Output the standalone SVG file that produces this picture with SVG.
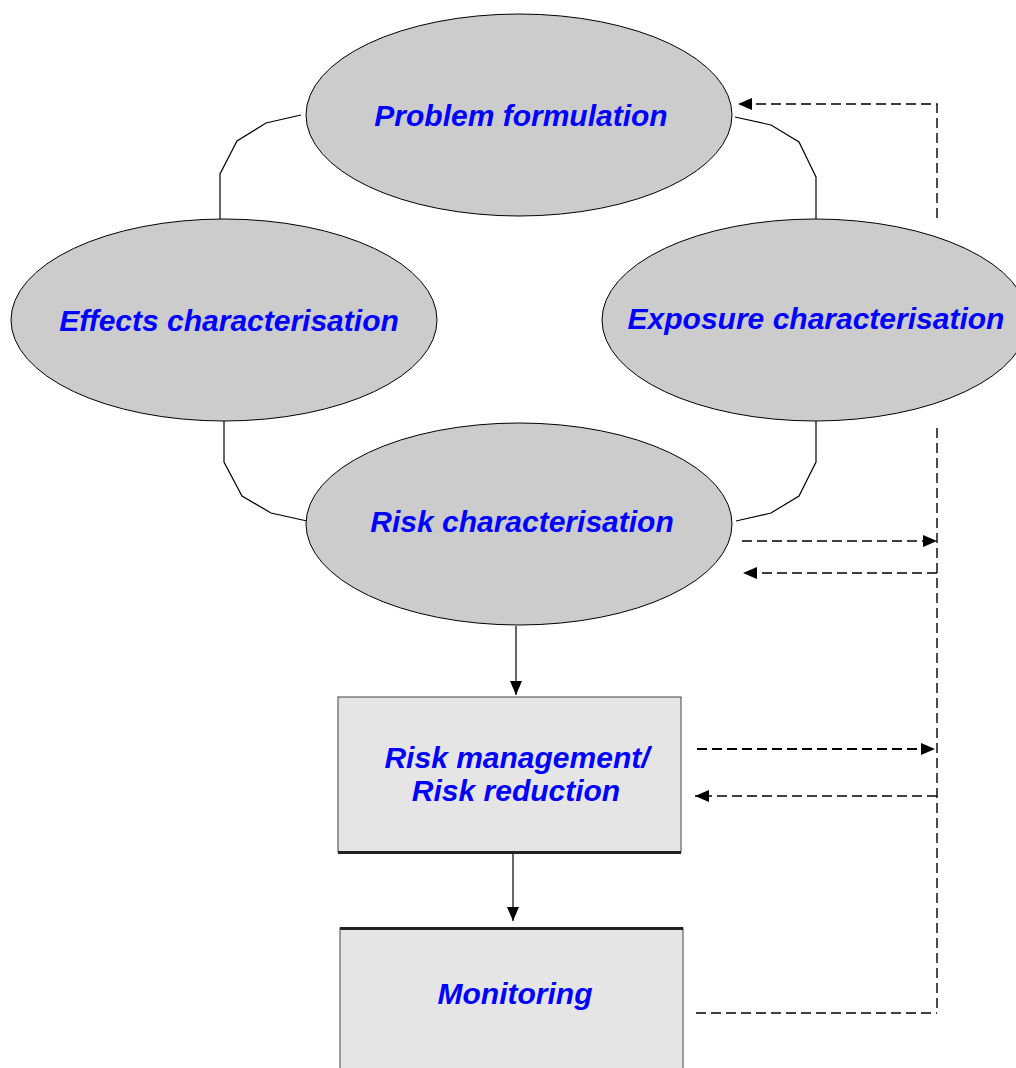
<svg xmlns="http://www.w3.org/2000/svg" width="1016" height="1068" viewBox="0 0 1016 1068">
  <style>
    .oval { fill: #cccccc; stroke: #000; stroke-width: 1; }
    .box { fill: #e5e5e5; stroke: #444; stroke-width: 1; }
    .edge { stroke: #222; stroke-width: 3; }
    .label { font-family: "Liberation Sans", Arial, sans-serif; font-weight: bold; font-style: italic; font-size: 30px; fill: #0000ff; text-anchor: middle; }
    .link { fill: none; stroke: #000; stroke-width: 1.2; }
    .dash { fill: none; stroke: #000; stroke-width: 1.4; stroke-dasharray: 10 5; }
    .dash-bold { fill: none; stroke: #000; stroke-width: 2.2; stroke-dasharray: 10 5; }
  </style>
  <defs>
    <marker id="head" viewBox="0 0 14 12" refX="14" refY="6" markerWidth="14" markerHeight="12" markerUnits="userSpaceOnUse" orient="auto">
      <path d="M0,0 L14,6 L0,12 Z" fill="#000"/>
    </marker>
  </defs>

  <!-- connectors -->
  <g id="connectors">
    <!-- ring links between the ovals -->
    <polyline class="link" points="301,115 266,123 237,141 220,174 220,219"/>
    <polyline class="link" points="735,117 771,125 799,142 816,177 816,220"/>
    <polyline class="link" points="224,420 224,462 242,496 271,513 307,521"/>
    <polyline class="link" points="816,419 816,462 799,496 771,513 736,521"/>
    <!-- main flow -->
    <line class="link" x1="516" y1="626" x2="516" y2="695" marker-end="url(#head)"/>
    <line class="link" x1="513" y1="853" x2="513" y2="921" marker-end="url(#head)"/>
    <!-- feedback loop -->
    <polyline class="dash" points="937,218 937,104 738,104" marker-end="url(#head)"/>
    <line class="dash" x1="937" y1="428" x2="937" y2="1013"/>
    <line class="dash" x1="742" y1="541" x2="937" y2="541" marker-end="url(#head)"/>
    <line class="dash" x1="937" y1="573" x2="743" y2="573" marker-end="url(#head)"/>
    <line class="dash-bold" x1="697" y1="749" x2="935" y2="749" marker-end="url(#head)"/>
    <line class="dash" x1="937" y1="796" x2="695" y2="796" marker-end="url(#head)"/>
    <line class="dash" x1="696" y1="1013" x2="937" y2="1013"/>
  </g>

  <g id="problem-formulation">
    <ellipse class="oval" cx="519" cy="115" rx="213" ry="101"/>
    <text class="label" x="521" y="126">Problem formulation</text>
  </g>

  <g id="effects-characterisation">
    <ellipse class="oval" cx="224" cy="320" rx="213" ry="101"/>
    <text class="label" x="229" y="331">Effects characterisation</text>
  </g>

  <g id="exposure-characterisation">
    <ellipse class="oval" cx="815" cy="320" rx="213" ry="101"/>
    <text class="label" x="816" y="329">Exposure characterisation</text>
  </g>

  <g id="risk-characterisation">
    <ellipse class="oval" cx="519" cy="524" rx="213" ry="101"/>
    <text class="label" x="522" y="532">Risk characterisation</text>
  </g>

  <g id="risk-management">
    <rect class="box" x="338" y="697" width="343" height="155"/>
    <line class="edge" x1="338" y1="852.5" x2="681" y2="852.5"/>
    <text class="label" x="517" y="768">Risk management/</text>
    <text class="label" x="516" y="801">Risk reduction</text>
  </g>

  <g id="monitoring">
    <rect class="box" x="340" y="928" width="343" height="160"/>
    <line class="edge" x1="340" y1="928.5" x2="683" y2="928.5"/>
    <text class="label" x="515" y="1004">Monitoring</text>
  </g>
</svg>
